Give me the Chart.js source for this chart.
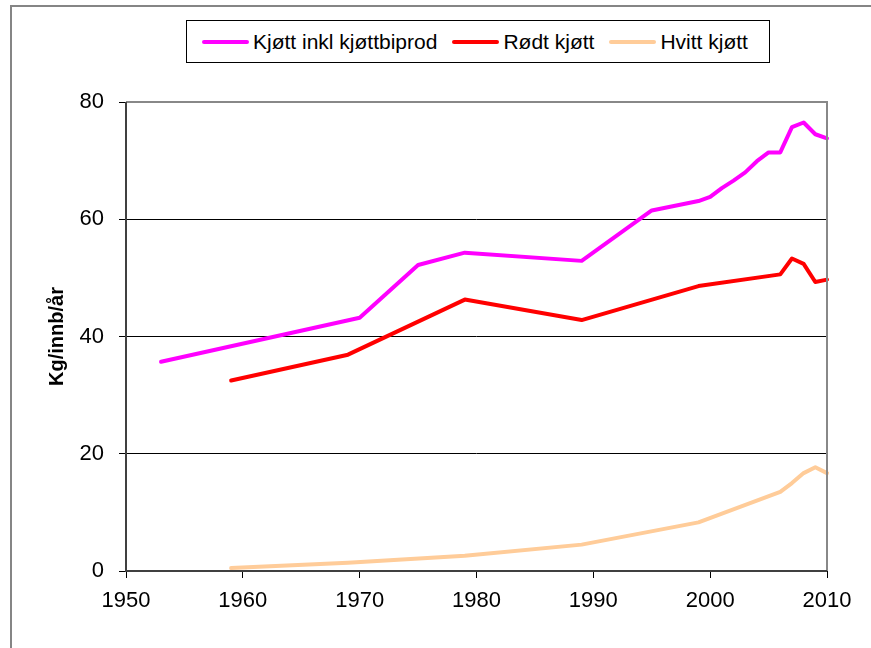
<!DOCTYPE html>
<html>
<head>
<meta charset="utf-8">
<script src="https://cdn.jsdelivr.net/npm/chart.js@4/dist/chart.umd.min.js"></script>
<style>
  html, body { margin: 0; padding: 0; background: #fff; overflow: hidden; }
  #wrap { position: relative; width: 871px; height: 648px; overflow: hidden; }
  canvas { position: absolute; left: 0; top: 0; }
  #legend { position: absolute; left: 186px; top: 20px; width: 584px; height: 43px; box-sizing: border-box;
    border: 1px solid #000; background: #fff; z-index: 2; display: flex; align-items: center;
    font-family: "Liberation Sans", Arial, sans-serif; font-size: 21px; color: #000; padding-left: 15px; white-space: nowrap; }
  .item { display: flex; align-items: center; margin-right: 15px; }
  .sw { width: 47px; height: 4px; border-radius: 2px; margin-right: 4px; }
</style>
</head>
<body>
<div id="wrap">
  <canvas id="c" width="871" height="648"></canvas>
  <div id="legend"></div>
</div>
<script>
const seriesNames = ["Kjøtt inkl kjøttbiprod", "Rødt kjøtt", "Hvitt kjøtt"];
const seriesColors = ["#FF00FF", "#FF0000", "#FFCC99"];

const meatYears = [1953, 1970, 1975, 1979, 1989, 1995, 1999, 2000, 2001, 2002, 2003, 2004, 2005, 2006, 2007, 2008, 2009, 2010];
const meatVals  = [35.7, 43.2, 52.2, 54.3, 52.9, 61.5, 63.1, 63.8, 65.3, 66.6, 68.0, 69.9, 71.4, 71.4, 75.7, 76.5, 74.5, 73.8];

const redYears = [1959, 1969, 1979, 1989, 1999, 2006, 2007, 2008, 2009, 2010];
const redVals  = [32.5, 36.9, 46.3, 42.8, 48.6, 50.6, 53.3, 52.4, 49.3, 49.7];

const whiteYears = [1959, 1969, 1979, 1989, 1999, 2006, 2007, 2008, 2009, 2010];
const whiteVals  = [0.5, 1.4, 2.6, 4.5, 8.3, 13.5, 15.0, 16.7, 17.7, 16.7];

const xTicks = [1950, 1960, 1970, 1980, 1990, 2000, 2010];
const yTicks = [0, 20, 40, 60, 80];
const yTitle = "Kg/innb/år";

function pts(xs, ys) { return xs.map((x, i) => ({ x: x, y: ys[i] })); }
const allSeries = [pts(meatYears, meatVals), pts(redYears, redVals), pts(whiteYears, whiteVals)];

// HTML legend
const lg = document.getElementById('legend');
seriesNames.forEach((n, i) => {
  const it = document.createElement('div'); it.className = 'item';
  const sw = document.createElement('div'); sw.className = 'sw'; sw.style.background = seriesColors[i];
  const tx = document.createElement('span'); tx.textContent = n;
  it.appendChild(sw); it.appendChild(tx); lg.appendChild(it);
});

const FONT = "'Liberation Sans', Arial, sans-serif";

const frameBorders = {
  id: 'frameBorders',
  beforeDraw(chart) {
    const ctx = chart.ctx;
    ctx.save();
    ctx.strokeStyle = '#858585';
    ctx.lineWidth = 2;
    ctx.beginPath();
    ctx.moveTo(11, chart.height); ctx.lineTo(11, 6); ctx.lineTo(chart.width, 6);
    ctx.stroke();
    ctx.restore();
  },
  afterDatasetsDraw(chart) {
    const a = chart.chartArea, ctx = chart.ctx;
    ctx.save();
    ctx.strokeStyle = '#888888';
    ctx.lineWidth = 2;
    ctx.beginPath();
    ctx.moveTo(a.left, a.top); ctx.lineTo(a.right, a.top); ctx.lineTo(a.right, a.bottom);
    ctx.stroke();
    ctx.strokeStyle = '#404040';
    ctx.beginPath();
    ctx.moveTo(a.left, a.top); ctx.lineTo(a.left, a.bottom); ctx.lineTo(a.right, a.bottom);
    ctx.stroke();
    ctx.restore();
  }
};

new Chart(document.getElementById('c'), {
  type: 'line',
  data: {
    datasets: allSeries.map((d, i) => ({
      label: seriesNames[i],
      data: d,
      borderColor: seriesColors[i],
      backgroundColor: seriesColors[i],
      borderWidth: 4,
      pointRadius: 0,
      tension: 0,
      fill: false,
      borderJoinStyle: 'round',
      borderCapStyle: 'round',
      clip: 4
    }))
  },
  options: {
    responsive: false,
    animation: false,
    devicePixelRatio: 1,
    layout: { padding: { left: 0, right: 44, top: 102, bottom: 0 } },
    plugins: { legend: { display: false }, tooltip: { enabled: false } },
    scales: {
      x: {
        type: 'linear', min: 1950, max: 2010,
        afterBuildTicks: s => { s.ticks = xTicks.map(v => ({ value: v })); },
        afterFit: s => { s.height = 77; },
        grid: { drawOnChartArea: false, drawTicks: true, tickLength: 7, color: '#000', tickColor: '#000', lineWidth: 1 },
        border: { display: false },
        ticks: { color: '#000', font: { family: FONT, size: 22 }, padding: 10, maxRotation: 0, autoSkip: false,
                 callback: v => String(v) }
      },
      y: {
        min: 0, max: 80,
        afterBuildTicks: s => { s.ticks = yTicks.map(v => ({ value: v })); },
        afterFit: s => { s.width = 126; },
        grid: {
          drawTicks: true, tickLength: 7, tickColor: '#000', lineWidth: 1,
          color: ctx => (ctx.tick && (ctx.tick.value === 0 || ctx.tick.value === 80)) ? 'rgba(0,0,0,0)' : '#000'
        },
        border: { display: false },
        ticks: { color: '#000', font: { family: FONT, size: 22 }, padding: 15, callback: v => String(v) },
        title: { display: true, text: yTitle, color: '#000', font: { family: FONT, size: 20, weight: 'bold' }, padding: { top: 45, bottom: 0 } }
      }
    }
  },
  plugins: [frameBorders]
});
</script>
</body>
</html>
